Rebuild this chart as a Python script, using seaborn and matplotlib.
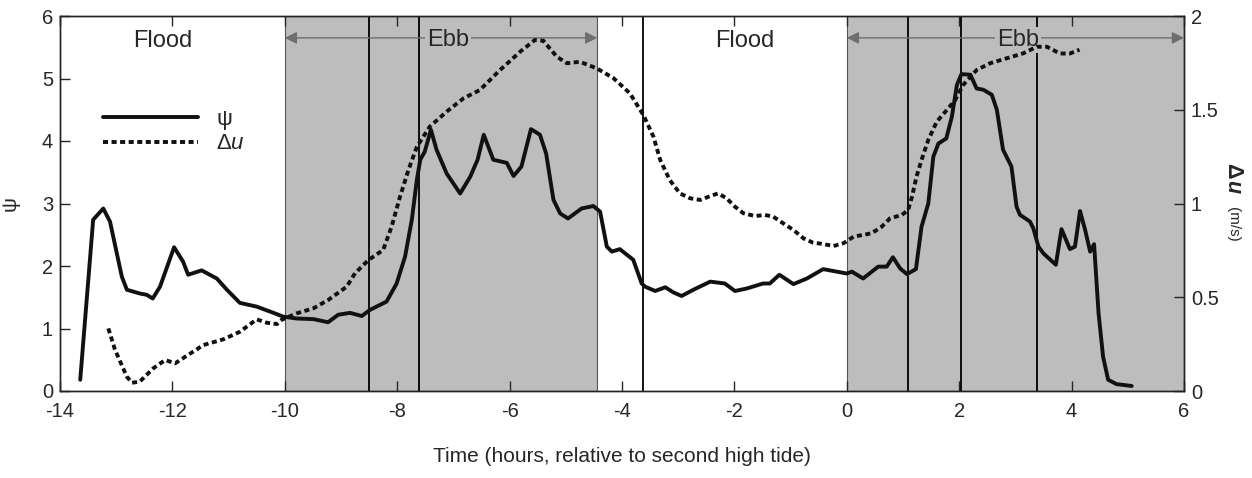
import numpy as np
import pandas as pd
import matplotlib
matplotlib.use("Agg")
import matplotlib.pyplot as plt
import seaborn as sns

# ---- data ----
psi_time = [-13.64, -13.41, -13.23, -13.11, -12.90, -12.81, -12.58, -12.46, -12.35, -12.22,
            -11.97, -11.81, -11.72, -11.48, -11.21, -11.03, -10.80, -10.50, -10.20, -10.03,
            -9.79, -9.49, -9.23, -9.05, -8.84, -8.63, -8.48, -8.19, -8.01, -7.86,
            -7.74, -7.65, -7.59, -7.51, -7.40, -7.30, -7.12, -6.88, -6.70, -6.57,
            -6.46, -6.29, -6.05, -5.93, -5.79, -5.62, -5.46, -5.35, -5.22, -5.10,
            -4.96, -4.72, -4.51, -4.39, -4.27, -4.18, -4.04, -3.80, -3.65, -3.59,
            -3.41, -3.23, -3.09, -2.94, -2.73, -2.43, -2.17, -1.99, -1.78, -1.49,
            -1.37, -1.20, -0.95, -0.71, -0.42, -0.18, 0.00, 0.09, 0.29, 0.56,
            0.71, 0.82, 0.95, 1.07, 1.23, 1.33, 1.45, 1.54, 1.63, 1.77,
            1.87, 1.96, 2.04, 2.20, 2.31, 2.43, 2.58, 2.67, 2.78, 2.93,
            3.02, 3.08, 3.26, 3.32, 3.41, 3.50, 3.72, 3.82, 3.97, 4.06,
            4.15, 4.24, 4.33, 4.40, 4.48, 4.56, 4.65, 4.80, 5.07]
psi_vals = [0.18, 2.74, 2.92, 2.71, 1.83, 1.62, 1.56, 1.54, 1.48, 1.67,
            2.30, 2.07, 1.86, 1.93, 1.80, 1.62, 1.41, 1.35, 1.25, 1.19,
            1.16, 1.15, 1.10, 1.22, 1.25, 1.20, 1.30, 1.43, 1.72, 2.15,
            2.74, 3.38, 3.70, 3.83, 4.18, 3.86, 3.48, 3.16, 3.43, 3.70,
            4.10, 3.70, 3.65, 3.44, 3.59, 4.19, 4.10, 3.80, 3.06, 2.84,
            2.76, 2.92, 2.96, 2.87, 2.31, 2.23, 2.27, 2.10, 1.72, 1.67,
            1.60, 1.66, 1.58, 1.52, 1.62, 1.75, 1.72, 1.60, 1.64, 1.72,
            1.72, 1.86, 1.71, 1.80, 1.95, 1.91, 1.88, 1.91, 1.80, 1.99,
            1.99, 2.14, 1.96, 1.87, 1.95, 2.63, 3.00, 3.75, 3.96, 4.04,
            4.39, 4.90, 5.07, 5.06, 4.84, 4.82, 4.74, 4.50, 3.86, 3.59,
            2.95, 2.82, 2.71, 2.60, 2.31, 2.20, 2.02, 2.59, 2.27, 2.31,
            2.88, 2.58, 2.23, 2.35, 1.24, 0.55, 0.18, 0.11, 0.08]

du_time = [-13.14, -13.02, -12.81, -12.72, -12.58, -12.34, -12.13, -11.95, -11.63, -11.45,
           -11.09, -10.80, -10.50, -10.32, -10.14, -10.06, -9.79, -9.49, -9.23, -8.90,
           -8.75, -8.51, -8.25, -8.10, -7.95, -7.80, -7.65, -7.42, -7.12, -6.82,
           -6.53, -6.17, -5.81, -5.55, -5.40, -5.16, -4.98, -4.75, -4.45, -4.15,
           -3.86, -3.62, -3.44, -3.32, -3.15, -2.97, -2.79, -2.61, -2.46, -2.29,
           -2.14, -1.99, -1.84, -1.63, -1.46, -1.31, -1.13, -0.95, -0.77, -0.60,
           -0.42, -0.24, -0.06, 0.12, 0.44, 0.62, 0.77, 0.98, 1.09, 1.16,
           1.24, 1.33, 1.45, 1.60, 1.78, 1.93, 2.07, 2.31, 2.55, 2.84,
           3.14, 3.38, 3.56, 3.79, 3.97, 4.14]
du_vals = [0.334, 0.219, 0.076, 0.044, 0.050, 0.121, 0.165, 0.148, 0.210, 0.245,
           0.276, 0.316, 0.382, 0.364, 0.357, 0.379, 0.414, 0.441, 0.485, 0.556,
           0.628, 0.699, 0.752, 0.876, 1.036, 1.179, 1.303, 1.410, 1.490, 1.561,
           1.605, 1.712, 1.810, 1.872, 1.868, 1.783, 1.748, 1.756, 1.721, 1.668,
           1.588, 1.472, 1.356, 1.232, 1.125, 1.054, 1.028, 1.019, 1.036, 1.054,
           1.028, 0.983, 0.948, 0.933, 0.939, 0.930, 0.894, 0.859, 0.814, 0.791,
           0.784, 0.773, 0.788, 0.823, 0.841, 0.876, 0.921, 0.939, 0.965, 1.036,
           1.143, 1.232, 1.339, 1.436, 1.499, 1.552, 1.632, 1.712, 1.748, 1.774,
           1.801, 1.836, 1.836, 1.800, 1.800, 1.820]

ebb_periods = [(-10.0, -4.44), (0.0, 6.0)]
ebb_label_x = [-7.1, 3.05]
flood_label_x = [-12.17, -1.81]
event_lines = [-8.51, -7.62, -3.63, 1.09, 2.04, 3.38]

x_ticks = [-14, -12, -10, -8, -6, -4, -2, 0, 2, 4, 6]
psi_ticks = [0, 1, 2, 3, 4, 5, 6]
du_ticks = [0, 0.5, 1, 1.5, 2]

# ---- style ----
sns.set_theme(style="ticks")
plt.rcParams["font.family"] = ["Liberation Sans", "DejaVu Sans"]
plt.rcParams["mathtext.fontset"] = "custom"
plt.rcParams["mathtext.rm"] = "Liberation Sans"
plt.rcParams["mathtext.it"] = "Liberation Sans:italic"
plt.rcParams["mathtext.bf"] = "Liberation Sans:bold"

band = "#bdbdbd"
arrow_col = "#6e6e6e"
txt = "#262626"

fig = plt.figure(figsize=(12.52, 4.78), dpi=100)
ax = fig.add_axes([60 / 1252, 1 - 391 / 478, 1124 / 1252, 375 / 478])

for a, b in ebb_periods:
    ax.axvspan(a, b, facecolor=band, edgecolor="#555555", lw=0.8, zorder=0)
for xv in event_lines:
    ax.axvline(xv, color="black", lw=1.3, zorder=1)

psi_df = pd.DataFrame({"t": psi_time, "psi": psi_vals})
du_df = pd.DataFrame({"t": du_time, "du": du_vals})

sns.lineplot(data=psi_df, x="t", y="psi", ax=ax, color="#111111", lw=2.8,
             label="ψ", legend=False, zorder=3)

ax2 = ax.twinx()
sns.lineplot(data=du_df, x="t", y="du", ax=ax2, color="#111111", lw=2.8,
             linestyle=(0, (1.3, 0.9)), label=r"$\Delta u$", legend=False, zorder=3)

ax.set_xlim(-14, 6)
ax.set_ylim(0, 6)
ax2.set_ylim(0, 2)
ax.set_xticks(x_ticks)
ax.set_xticklabels([str(t) for t in x_ticks])
ax.set_yticks(psi_ticks)
ax.set_yticklabels([str(t) for t in psi_ticks])
ax2.set_yticks(du_ticks)
ax2.set_yticklabels(["0", "0.5", "1", "1.5", "2"])

ax.tick_params(axis="x", direction="in", top=True, length=7.5, width=1, pad=8,
               labelsize=14.5, colors=txt)
ax.tick_params(axis="y", direction="in", length=7.5, width=1, pad=5,
               labelsize=14.5, colors=txt)
ax2.tick_params(axis="y", direction="in", length=7.5, width=1, pad=5,
                labelsize=14.5, colors=txt)
for sp in list(ax.spines.values()) + list(ax2.spines.values()):
    sp.set_linewidth(1.0)
    sp.set_color("#222222")

ax.set_xlabel("Time (hours, relative to second high tide)", fontsize=15, color=txt)
ax.xaxis.set_label_coords(0.5, -0.149)
ax.set_ylabel("ψ", fontsize=15, color=txt)
ax.yaxis.set_label_coords(-0.036, 0.5)
ax2.set_ylabel("")

# right-axis label
fig.text(1233 / 1252, 1 - 171 / 478, "Δ", rotation=270, ha="center", va="center",
         fontsize=15.5, fontweight="bold", color=txt)
fig.text(1233 / 1252, 1 - 187 / 478, "u", rotation=270, ha="center", va="center",
         fontsize=15.5, fontweight="bold", fontstyle="italic", color=txt)
fig.text(1233 / 1252, 1 - 224 / 478, "(m/s)", rotation=270, ha="center", va="center",
         fontsize=11, color=txt)

# annotations
for (a, b), xt in zip(ebb_periods, ebb_label_x):
    ax.annotate("", xy=(a, 5.65), xytext=(b, 5.65),
                arrowprops=dict(arrowstyle="<|-|>", color=arrow_col, lw=1.0,
                                mutation_scale=18, shrinkA=0, shrinkB=0), zorder=4)
    ax.text(xt, 5.62, "Ebb", ha="center", va="center", fontsize=17, color=txt,
            bbox=dict(facecolor=band, edgecolor="none", pad=1.5), zorder=5)
for xt in flood_label_x:
    ax.text(xt, 5.6, "Flood", ha="center", va="center", fontsize=17, color=txt, zorder=5)

# legend
leg = ax2.legend(handles=[ax.lines[-1], ax2.lines[-1]], labels=["ψ", r"$\Delta u$"],
                 loc="upper left", bbox_to_anchor=(0.038, 0.752), frameon=False,
                 fontsize=16, handlelength=4.3, handletextpad=0.8, labelspacing=0.15,
                 borderpad=0, borderaxespad=0)
for t in leg.get_texts():
    t.set_color(txt)

fig.savefig("out.png", dpi=100)
